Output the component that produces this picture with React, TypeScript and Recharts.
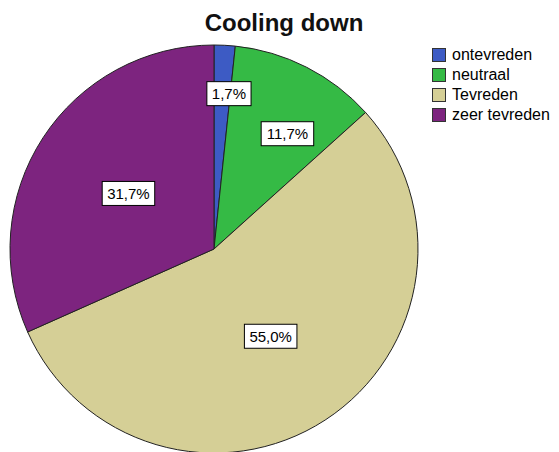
import React from "react";
import { PieChart, Pie, Cell, Legend } from "recharts";

const categories = ["ontevreden", "neutraal", "Tevreden", "zeer tevreden"];
const counts = [1, 7, 33, 19];
const percentLabels = ["1,7%", "11,7%", "55,0%", "31,7%"];
const title = "Cooling down";

const COLORS = ["#3D5BC4", "#35BA45", "#D5CF96", "#7D247F"];
const LABEL_R = [0.765, 0.67, 0.51, 0.5];
const LABEL_DA = [-2.5, -5.5, 0, 0];

const data = categories.map((name, i) => ({ name, value: counts[i], label: percentLabels[i] }));

const RAD = Math.PI / 180;
const CW: Record<string, number> = { ",": 0.278, "%": 0.889 };
const FS = 15;

const renderLabel = (props: any) => {
  const { cx, cy, midAngle, outerRadius, index } = props;
  const r = outerRadius * LABEL_R[index];
  const a = midAngle + LABEL_DA[index];
  const x = cx + r * Math.cos(-a * RAD);
  const y = cy + r * Math.sin(-a * RAD);
  const txt = data[index].label;
  const w = txt.split("").reduce((s, c) => s + (CW[c] || 0.556), 0) * FS + 10;
  const h = 24;
  return (
    <g>
      <rect x={x - w / 2} y={y - h / 2} width={w} height={h} fill="#ffffff" stroke="#000000" strokeWidth={1} />
      <text x={x} y={y} textAnchor="middle" dominantBaseline="central" fontFamily="'Liberation Sans', Arial, sans-serif" fontSize={FS} fill="#000">
        {txt}
      </text>
    </g>
  );
};

const renderLegend = () => (
  <div style={{ fontFamily: "'Liberation Sans', Arial, sans-serif", fontSize: 16, color: "#000" }}>
    {data.map((d, i) => (
      <div key={d.name} style={{ display: "flex", alignItems: "center", height: 20 }}>
        <span style={{ display: "inline-block", width: 14, height: 14, background: COLORS[i], border: "1px solid #333", boxSizing: "border-box", marginRight: 6 }} />
        <span style={{ lineHeight: "20px" }}>{d.name}</span>
      </div>
    ))}
  </div>
);

export default function App() {
  return (
    <div style={{ position: "absolute", left: 0, top: 0, width: 559, height: 452, background: "#fff", overflow: "hidden" }}>
      <div style={{ position: "absolute", left: 0, top: 9, width: 568, textAlign: "center", fontFamily: "'Liberation Sans', Arial, sans-serif", fontWeight: "bold", fontSize: 24, color: "#111", zIndex: 2 }}>
        {title}
      </div>
      <PieChart width={559} height={452} margin={{ top: 0, right: 0, bottom: 0, left: 0 }}>
        <Pie
          data={data}
          dataKey="value"
          nameKey="name"
          cx={214}
          cy={249}
          outerRadius={204}
          startAngle={90}
          endAngle={-270}
          stroke="#222"
          strokeWidth={1}
          label={renderLabel}
          labelLine={false}
          isAnimationActive={false}
        >
          {data.map((d, i) => (
            <Cell key={d.name} fill={COLORS[i]} />
          ))}
        </Pie>
        <Legend content={renderLegend} layout="vertical" align="right" verticalAlign="top" wrapperStyle={{ left: 432, top: 45, width: 127 }} />
      </PieChart>
    </div>
  );
}
